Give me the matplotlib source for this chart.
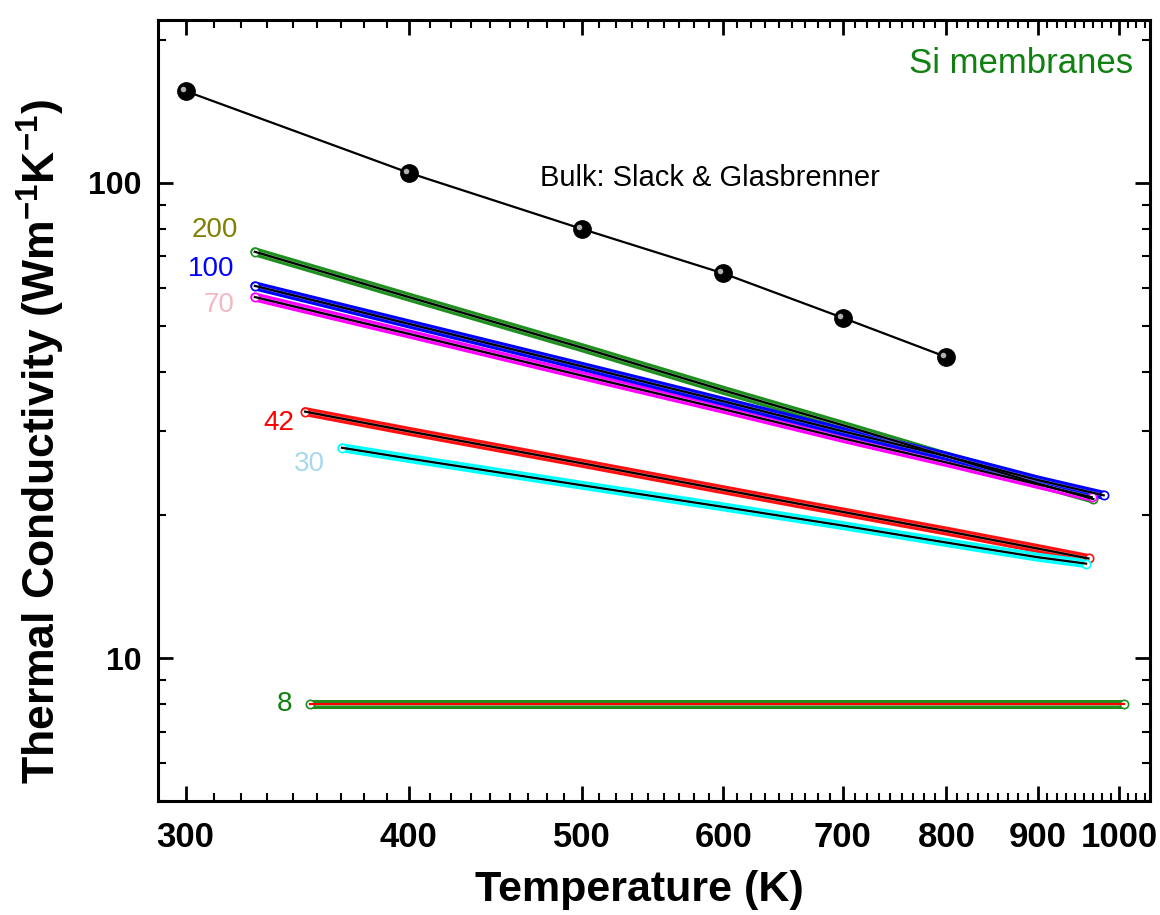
import matplotlib
matplotlib.use('Agg')
import matplotlib.pyplot as plt
import matplotlib.transforms as mtransforms
from matplotlib.ticker import FixedLocator, NullFormatter

plt.rcParams['font.family'] = ['Liberation Sans', 'DejaVu Sans']
plt.rcParams['mathtext.fontset'] = 'custom'
plt.rcParams['mathtext.rm'] = 'Liberation Sans'
plt.rcParams['mathtext.bf'] = 'Liberation Sans:bold'

# bulk Si (Slack & Glasbrenner)
T_bulk = [300, 400, 500, 600, 700, 800]
k_bulk = [156, 105, 80, 64.5, 52, 43]

# membranes: thickness label -> temperature / conductivity
T_200 = [328, 400, 500, 600, 700, 800, 900, 967]
k_200 = [71.6, 57.5, 45.0, 36.6, 30.9, 26.6, 23.3, 21.6]
T_100 = [328, 400, 500, 600, 700, 800, 900, 980]
k_100 = [60.7, 50.5, 41.1, 34.7, 30.0, 26.6, 23.7, 22.0]
T_70 = [328, 400, 500, 600, 700, 800, 900, 965]
k_70 = [57.5, 48.1, 39.3, 33.4, 29.0, 25.8, 23.2, 21.8]
T_42 = [350, 400, 500, 600, 700, 800, 900, 961]
k_42 = [33.0, 30.0, 25.7, 22.6, 20.3, 18.5, 17.0, 16.2]
T_30 = [367, 400, 500, 600, 700, 800, 900, 958]
k_30 = [27.7, 26.3, 23.1, 20.8, 19.0, 17.5, 16.3, 15.8]
T_8 = [352, 500, 700, 900, 1006]
k_8 = [8.0, 8.0, 8.0, 8.0, 8.0]

fig = plt.figure(figsize=(11.6, 9.15), dpi=100)
ax = fig.add_axes([0.1362, 0.1245, 0.855, 0.8535])
ax.set_xscale('log')
ax.set_yscale('log')


def band(T, k, col, fitcol='black'):
    # dense open-circle data drawn as a coloured band with the fit on top
    ax.plot(T, k, '-', color=col, lw=6.5, solid_capstyle='round', zorder=2)
    ax.plot(T, k, '-', color='white', lw=2.2, alpha=0.45, zorder=3)
    ax.plot([T[0], T[-1]], [k[0], k[-1]], 'o', ms=6, mfc='white', mec=col, mew=1.2, zorder=3)
    ax.plot(T, k, '-', color=fitcol, lw=1.6, zorder=4)


band(T_200, k_200, '#1f8f1f')
band(T_70, k_70, '#ff00ff')
band(T_100, k_100, '#0000ff')
band(T_42, k_42, '#ff1010')
band(T_30, k_30, '#00ffff')
band(T_8, k_8, '#1f8f1f', fitcol='#ff0000')

ax.plot(T_bulk, k_bulk, '-', color='black', lw=1.6, zorder=5)
ax.plot(T_bulk, k_bulk, 'o', color='black', ms=12.5, zorder=6)
shine = mtransforms.offset_copy(ax.transData, fig=fig, x=-2.2, y=1.5, units='points')
ax.plot(T_bulk, k_bulk, 'o', color='#b0b0b0', ms=4, mew=0, transform=shine, zorder=7)

ax.text(321, 79.5, '200', color='#808000', fontsize=20, ha='right', va='center')
ax.text(319.5, 65.8, '100', color='#0000ff', fontsize=20, ha='right', va='center')
ax.text(319.5, 55.3, '70', color='#f4b8c4', fontsize=20, ha='right', va='center')
ax.text(344.9, 31.2, '42', color='#ff0000', fontsize=20, ha='right', va='center')
ax.text(359.2, 25.6, '30', color='#a8d8f0', fontsize=20, ha='right', va='center')
ax.text(344.4, 8.0, '8', color='#108010', fontsize=20, ha='right', va='center')
ax.text(474, 102.3, 'Bulk: Slack & Glasbrenner', color='black', fontsize=21, ha='left', va='center')
ax.text(0.983, 0.944, 'Si membranes', color='#108010', fontsize=25, ha='right', va='center',
        transform=ax.transAxes)

ax.set_xlim(289.5, 1040)
ax.set_ylim(5, 220)

xmaj = [300, 400, 500, 600, 700, 800, 900, 1000]
ax.xaxis.set_major_locator(FixedLocator(xmaj))
ax.set_xticklabels([str(v) for v in xmaj])
xmin = [a + 100 * j / 9 for a in range(300, 1001, 100) for j in range(1, 9)]
ax.xaxis.set_minor_locator(FixedLocator(xmin))
ax.xaxis.set_minor_formatter(NullFormatter())
ax.set_yticks([10, 100])
ax.set_yticklabels(['10', '100'])
ax.yaxis.set_minor_formatter(NullFormatter())

for lab in ax.get_xticklabels() + ax.get_yticklabels():
    lab.set_fontweight('bold')
ax.tick_params(axis='x', labelsize=25, pad=14)
ax.tick_params(axis='y', labelsize=23, pad=12)
ax.tick_params(which='both', direction='in', top=True, right=True)
ax.tick_params(which='major', length=11, width=2)
ax.tick_params(which='minor', length=6, width=1.5)
for s in ax.spines.values():
    s.set_linewidth(2.2)

ax.set_xlabel('Temperature (K)', fontsize=31, fontweight='bold')
ax.set_ylabel('Thermal Conductivity (Wm$^{\\mathbf{-1}}$K$^{\\mathbf{-1}}$)', fontsize=32, fontweight='bold')
ax.xaxis.set_label_coords(0.485, -0.088)
ax.yaxis.set_label_coords(-0.092, 0.46)

fig.savefig('out.png', dpi=100)
